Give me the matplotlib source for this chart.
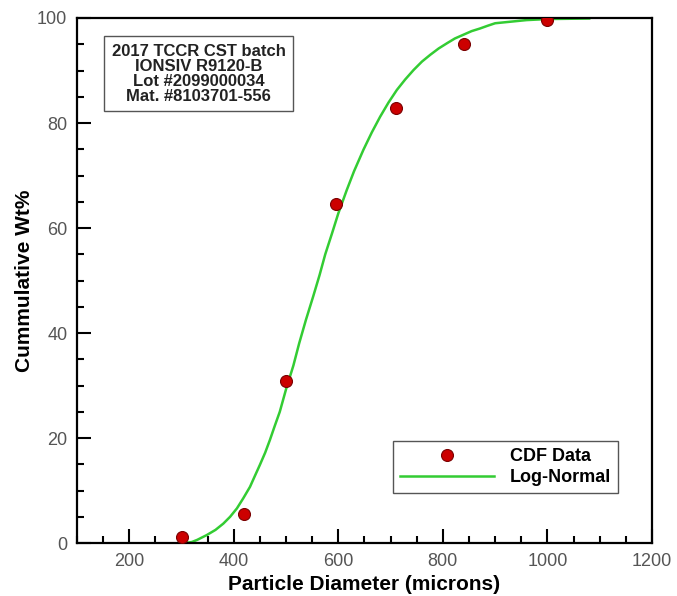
import numpy as np
import matplotlib
matplotlib.use("Agg")
import matplotlib.pyplot as plt
from matplotlib.ticker import MultipleLocator

plt.rcParams['font.family'] = ['Liberation Sans', 'DejaVu Sans']

# measured CDF points
diam = [300, 420, 500, 595, 710, 840, 1000]
cdf_pct = [1.2, 5.5, 30.8, 64.6, 82.8, 95.0, 99.7]

# log-normal fit
fit_x = [307, 320, 330, 348, 365, 380, 393, 406, 418, 431, 440, 450, 460, 469, 478,
         488, 500, 514, 525, 538, 552, 564, 575, 588, 600, 616, 630, 648, 664, 680,
         696, 712, 728, 744, 760, 776, 792, 808, 823, 839, 855, 871, 885, 900, 930,
         960, 1000, 1040, 1080]
fit_y = [0.0, 0.2, 0.6, 1.5, 2.5, 3.7, 5.0, 6.6, 8.5, 10.7, 12.7, 14.9, 17.2, 19.6, 22.2,
         25.0, 29.3, 33.8, 38.0, 42.5, 47.0, 51.0, 55.0, 59.0, 62.8, 67.2, 70.8, 74.9, 78.2, 81.2,
         83.9, 86.3, 88.3, 90.1, 91.7, 93.0, 94.2, 95.2, 96.1, 96.8, 97.5, 98.0, 98.5, 99.0, 99.3,
         99.6, 99.8, 99.85, 99.9]

info = "2017 TCCR CST batch\nIONSIV R9120-B\nLot #2099000034\nMat. #8103701-556"

fig = plt.figure(figsize=(6.77, 5.96), dpi=100)
ax = fig.add_axes([0.1137, 0.0889, 0.8493, 0.8809])

ax.plot(fit_x, fit_y, color="#33cc33", lw=1.8, label="Log-Normal", zorder=2)
ax.plot(diam, cdf_pct, "o", ms=8.6, mfc="#cc0000", mec="#7a0000", mew=0.8,
        label="CDF Data", zorder=3)

ax.set_xlim(100, 1200)
ax.set_ylim(0, 100)
ax.xaxis.set_major_locator(MultipleLocator(200))
ax.xaxis.set_minor_locator(MultipleLocator(50))
ax.yaxis.set_major_locator(MultipleLocator(20))
ax.yaxis.set_minor_locator(MultipleLocator(5))
ax.tick_params(which="both", direction="in", top=False, right=False,
               labelsize=13, labelcolor="#555555", width=1.5)
ax.tick_params(which="major", length=10, pad=7)
ax.tick_params(which="minor", length=5)
for s in ax.spines.values():
    s.set_linewidth(1.6)

ax.set_xlabel("Particle Diameter (microns)", fontsize=15, fontweight="bold", labelpad=4)
ax.set_ylabel("Cummulative Wt%", fontsize=15, fontweight="bold", labelpad=2)

ax.text(0.212, 0.894, info, transform=ax.transAxes, ha="center", va="center",
        multialignment="center", fontsize=12, fontweight="bold", color="#222222",
        linespacing=1.0,
        bbox=dict(boxstyle="square,pad=0.45", fc="white", ec="#555555", lw=1))

h, l = ax.get_legend_handles_labels()
leg = ax.legend(h[::-1], l[::-1], loc="lower right", bbox_to_anchor=(0.941, 0.095),
                borderaxespad=0, prop=dict(weight="bold", size=13),
                handlelength=5.2, handletextpad=0.85, borderpad=0.4,
                labelspacing=0.2, fancybox=False, framealpha=1)
leg.get_frame().set_edgecolor("#555555")
leg.get_frame().set_linewidth(1)

fig.savefig("out.png", dpi=100)
